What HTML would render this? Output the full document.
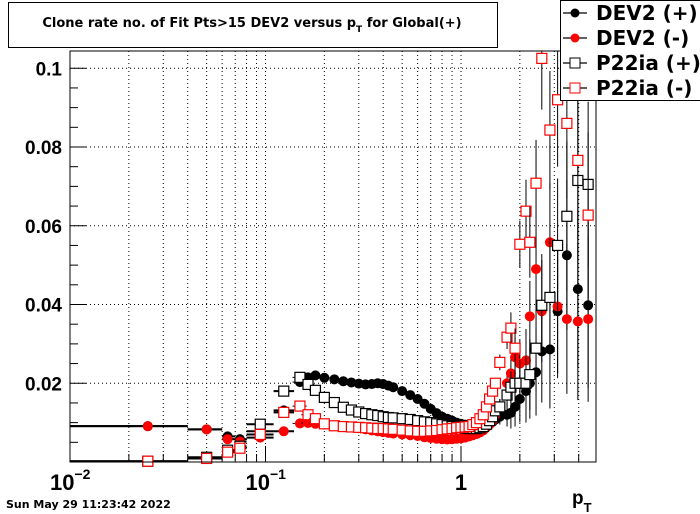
<!DOCTYPE html>
<html><head><meta charset="utf-8"><style>
body{margin:0;background:#fff;width:700px;height:514px;overflow:hidden}
svg{display:block;font-family:"Liberation Sans",sans-serif}
.dv{font-family:"DejaVu Sans","Liberation Sans",sans-serif}
</style></head><body>
<svg id="chart" width="700" height="514" viewBox="0 0 700 514">
<rect x="0" y="0" width="700" height="514" fill="#fff"/>
<g id="grid"></g>
<g id="axes"></g>
<g id="series"></g>
<rect x="70" y="51" width="526" height="411" fill="none" stroke="#000" stroke-width="1"/>
<g>
<rect x="8.5" y="2.5" width="489" height="45" fill="#fff" stroke="#000"/>
<text class="dv" x="252" y="27" text-anchor="middle" font-size="13" font-weight="bold">Clone rate no. of Fit Pts&gt;15 DEV2 versus p<tspan font-size="9" dy="5">T</tspan><tspan dy="-5"> for Global(+)</tspan></text>
</g>
<g id="legend">
<rect x="560.5" y="0.5" width="145" height="100" fill="#fff" stroke="#000"/>
</g>
<text x="572" y="504" font-size="19" font-weight="bold">p<tspan font-size="13" dy="8">T</tspan></text>
<text class="dv" x="6" y="508" font-size="11" font-weight="bold">Sun May 29 11:23:42 2022</text>
</svg>
<script>
const ptBins=[0.025,0.05,0.064,0.074,0.094,0.124,
0.15,0.165,0.18,0.2,0.225,0.25,0.275,0.3,0.325,0.35,0.375,0.4,0.425,0.45,0.5,0.55,0.6,0.65,0.7,0.75,0.8,0.85,0.9,0.95,1.0,1.05,1.1,1.15,1.2,1.25,1.3,1.35,1.4,1.45,1.5,
1.58,1.72,1.8,1.89,2.0,2.15,2.25,2.42,2.59,2.85,3.12,3.48,3.96,4.47];
const lowBinLo=[0.01,0.04,0.06,0.07,0.08,0.11];
const lowBinHi=[0.04,0.06,0.07,0.08,0.11,0.14];
const dev2Plus=[.0091,.0083,.0065,.0058,.0078,.0131,
.0203,.0215,.022,.0214,.021,.0205,.0202,.0199,.0197,.0198,.0200,.0198,.0194,.0190,.0180,.0170,.0160,.0148,.0135,.0124,.0115,.0110,.0105,.0100,.0097,.0095,.0092,.0090,.0090,.0091,.0093,.0095,.0098,.0102,.0108,
.0115,.0120,.0125,.0140,.0160,.0180,.0200,.0228,.0281,.0286,.0383,.0525,.0439,.0398];
const dev2Minus=[.0091,.0083,.0058,.0052,.0062,.0078,
.0098,.0099,.0097,.0095,.0092,.0090,.0088,.0086,.0083,.0080,.0078,.0076,.0074,.0072,.0070,.0068,.0066,.0063,.0061,.0059,.0058,.0057,.0058,.0059,.0060,.0062,.0065,.0068,.0071,.0075,.0080,.0088,.0095,.0105,.0120,
.0140,.0200,.0225,.0266,.0250,.0258,.0370,.0490,.0383,.0558,.0395,.0363,.0357,.0363];
const p22Plus=[.0002,.0012,.0030,.0040,.0096,.0180,
.0215,.0197,.0182,.0164,.0151,.0139,.0132,.0127,.0123,.0120,.0118,.0115,.0113,.0112,.0110,.0108,.0105,.0102,.0100,.0097,.0095,.0092,.0090,.0088,.0087,.0086,.0085,.0085,.0085,.0087,.0090,.0096,.0105,.0115,.0130,
.0140,.0170,.0190,.0200,.0200,.0200,.0222,.0289,.0398,.0418,.0550,.0624,.0715,.0705];
const p22Minus=[.0002,.0009,.0025,.0035,.0070,.0126,
.0142,.0120,.0110,.0097,.0092,.0090,.0089,.0088,.0087,.0086,.0085,.0085,.0084,.0083,.0081,.0079,.0078,.0078,.0079,.0080,.0082,.0084,.0085,.0087,.0088,.0089,.0090,.0095,.0100,.0110,.0120,.0140,.0160,.0180,.0200,
.0253,.0317,.0340,.0289,.0553,.0637,.0558,.0708,.1025,.0843,.0920,.0860,.0766,.0627];
const tailErr=[.002,.003,.004,.005,.006,.008,.009,.011,.013,.015,.017,.019,.020,.021];
const yTickLabels=["0.02","0.04","0.06","0.08","0.1"];
const yTickValues=[0.02,0.04,0.06,0.08,0.1];
const legendLabels=["DEV2 (+)","DEV2 (-)","P22ia (+)","P22ia (-)"];

const NS="http://www.w3.org/2000/svg";
const X0=70,X1=596,Y0=462,Y1=51;
const xMinLog=-2,decPx=195.5;
const yMax=(Y0-Y1)/3937.5;
function xPx(v){return X0+(Math.log10(v)-xMinLog)*decPx;}
function yPx(v){return Y0-(v/yMax)*(Y0-Y1);}
function mk(tag,attrs,parent){const e=document.createElementNS(NS,tag);for(const k in attrs)e.setAttribute(k,attrs[k]);parent.appendChild(e);return e;}
const grid=document.getElementById('grid'),axes=document.getElementById('axes'),series=document.getElementById('series'),legend=document.getElementById('legend');

for(let d=-2;d<=0;d++){for(let m=1;m<=9;m++){const v=m*Math.pow(10,d);const x=xPx(v);if(x>X1)break;
 if(x>X0+0.5){const g=mk('line',{x1:x,x2:x,y1:Y1,y2:Y0,stroke:'#000','stroke-dasharray':'1,3','stroke-width':1},grid);
 
 }
 const t=mk('line',{x1:x,x2:x,y1:Y0,y2:Y0-(m===1?16:8),stroke:'#000'},axes);
 
 }}
[[-2,"10","−2"],[-1,"10","−1"]].forEach(a=>{const x=xPx(Math.pow(10,a[0]));
 const t=mk('text',{x:x-20,y:490,'font-size':22,'font-weight':'bold'},axes);t.textContent=a[1];
 
 
 const s=mk('tspan',{'font-size':14,dy:-11},t);s.textContent=a[2];});
{const t=mk('text',{x:xPx(1),y:490,'font-size':22,'font-weight':'bold','text-anchor':'middle'},axes);t.textContent="1";
 
 }
for(let v=0.005;v<yMax;v+=0.005){const y=yPx(v);const major=Math.abs(v/0.02-Math.round(v/0.02))<1e-6;
 const t=mk('line',{x1:X0,x2:X0+(major?16:8),y1:y,y2:y,stroke:'#000'},axes);
 
 }
yTickValues.forEach((v,i)=>{const y=yPx(v);
 const g=mk('line',{x1:X0,x2:X1,y1:y,y2:y,stroke:'#000','stroke-dasharray':'1,3'},grid);
 
 
 const t=mk('text',{x:62,y:y+7,'font-size':19,'font-weight':'bold','text-anchor':'end'},axes);t.textContent=yTickLabels[i];
 
 });

function binEdges(i){if(i<6)return [lowBinLo[i],lowBinHi[i]];
 const p=ptBins[i];if(i<41)return [p-0.0125,p+0.0125];return [p*0.97,p*1.03];}
function errOf(i){if(i>=41)return tailErr[i-41];if(i<6)return 0.001;return 0.0004;}
function drawSeries(vals,color,open,name){
 const g=mk('g',{},series);
 
 
 vals.forEach((v,i)=>{const x=xPx(ptBins[i]),y=yPx(v);const e=binEdges(i),er=errOf(i);
  mk('line',{x1:Math.max(X0,xPx(e[0])),x2:xPx(e[1]),y1:y,y2:y,stroke:'#000','stroke-width':i<6?2:1},g);
  mk('line',{x1:x,x2:x,y1:Math.max(Y1,yPx(v+er)),y2:Math.min(Y0,yPx(v-er)),stroke:'#000','stroke-width':1},g);
  let m;
  if(open){m=mk('rect',{x:x-5,y:y-5,width:10,height:10,fill:'#fff',stroke:color,'stroke-width':1.2},g);}
  else{m=mk('circle',{cx:x,cy:y,r:5,fill:color},g);}
  
  });}
drawSeries(dev2Plus,'#000',false,'dev2-plus-series');
drawSeries(dev2Minus,'#f00',false,'dev2-minus-series');
drawSeries(p22Plus,'#000',true,'p22ia-plus-series');
drawSeries(p22Minus,'#f00',true,'p22ia-minus-series');

const lc=['#000','#f00','#000','#f00'],lo=[false,false,true,true];
legendLabels.forEach((lab,i)=>{const y=13+i*25;
 const g=mk('g',{},legend);
 
 
 mk('line',{x1:563,x2:587,y1:y,y2:y,stroke:'#000','stroke-width':1.2},g);
 if(lo[i])mk('rect',{x:570,y:y-5,width:10,height:10,fill:'#fff',stroke:lc[i]},g);
 else mk('circle',{cx:575,cy:y,r:4.5,fill:lc[i]},g);
 const t=mk('text',{x:596,y:y+7,'font-size':20,'font-weight':'bold','class':'dv'},g);t.textContent=lab;});
</script>
</body></html>
